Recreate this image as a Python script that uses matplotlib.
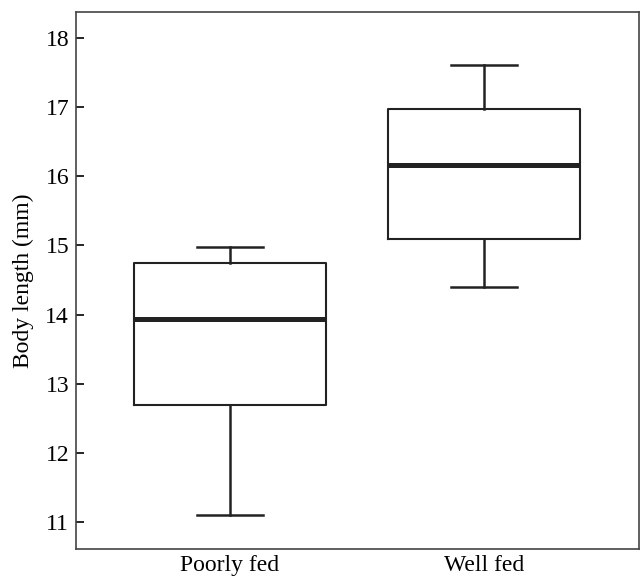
import matplotlib.pyplot as plt

# data
grupos = ['Poorly fed', 'Well fed']
whisker_baixo = [11.10, 14.40]
q1 = [12.69, 15.09]
mediana = [13.93, 16.17]
q3 = [14.74, 16.98]
whisker_alto = [14.98, 17.61]
yticks = [11, 12, 13, 14, 15, 16, 17, 18]

plt.rcParams['font.family'] = ['Liberation Serif', 'DejaVu Serif']

stats = []
for i, g in enumerate(grupos):
    stats.append({'label': g, 'whislo': whisker_baixo[i], 'q1': q1[i], 'med': mediana[i],
                  'q3': q3[i], 'whishi': whisker_alto[i], 'fliers': []})

fig = plt.figure(figsize=(6.44, 5.77), dpi=100)
ax = fig.add_axes([76 / 644, 1 - 549 / 577, 563 / 644, 537 / 577])

ax.bxp(stats, positions=[1, 2], widths=0.756, capwidths=0.26, showfliers=False,
       boxprops=dict(color='#222222', linewidth=1.5),
       medianprops=dict(color='#222222', linewidth=3.6),
       whiskerprops=dict(color='#222222', linewidth=1.8),
       capprops=dict(color='#222222', linewidth=1.8))

ax.set_xlim(0.394, 2.61)
ax.set_ylim(10.61, 18.376)
ax.set_yticks(yticks)
ax.set_xticks([1, 2])
ax.set_xticklabels(grupos)
ax.tick_params(axis='y', direction='in', length=6, width=1.2, labelsize=17, pad=5)
ax.tick_params(axis='x', length=0, labelsize=17, pad=4)
ax.set_ylabel('Body length (mm)', fontsize=17, labelpad=8)
for s in ax.spines.values():
    s.set_color('#444444')
    s.set_linewidth(1.2)

fig.savefig('out.png', dpi=100)
